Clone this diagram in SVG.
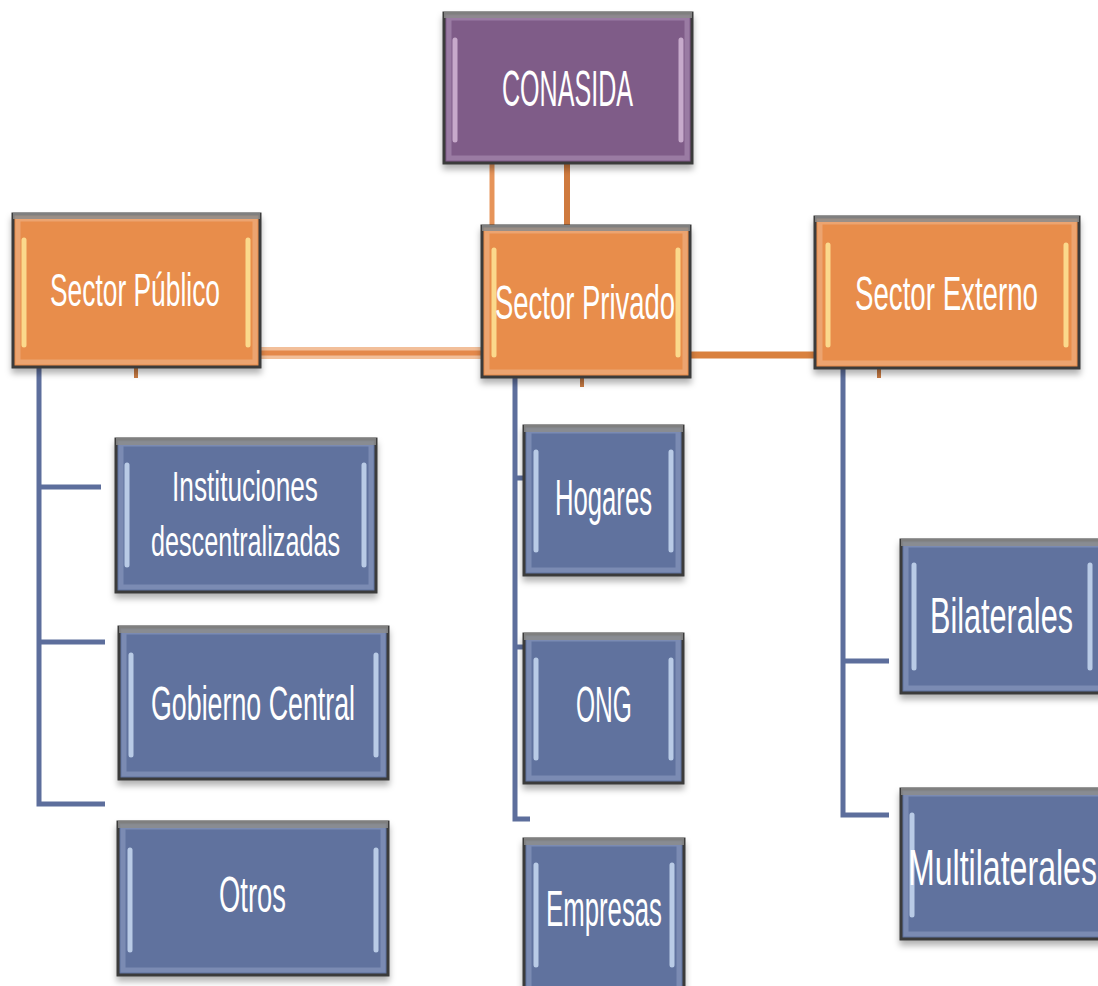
<svg xmlns="http://www.w3.org/2000/svg" width="1098" height="986" viewBox="0 0 1098 986">
<style>
  .body{stroke:#3a3a3a;stroke-width:3;filter:url(#sh)}
  .orange .body{fill:#e88d4b}
  .purple .body{fill:#7f5b88}
  .blue .body{fill:#61729e}
  .rim{fill:none;stroke-width:5}
  .orange .rim{stroke:#eca470}
  .purple .rim{stroke:#9a7ba3}
  .blue .rim{stroke:#7b8bb3}
  .top{fill:#8c8c8c;opacity:0.85}
  .hl{stroke-width:5;stroke-linecap:round}
  .orange .hl{stroke:#fbd98c}
  .purple .hl{stroke:#c7aacb}
  .blue .hl{stroke:#b9cbe6}
  text{font-family:"Liberation Sans",Arial,sans-serif;fill:#ffffff;text-anchor:start}
  .oc{stroke:#e4884a;stroke-width:5;fill:none}
  .ocl{stroke:#f2bf9a;stroke-width:12;fill:none}
  .bc{stroke:#5d6e9c;stroke-width:5;fill:none}
</style>
<defs>
  <filter id="sh" x="-5%" y="-5%" width="110%" height="120%">
    <feDropShadow dx="0" dy="5" stdDeviation="3" flood-color="#000" flood-opacity="0.3"/>
  </filter>
</defs>
<rect width="1098" height="986" fill="#ffffff"/>

<g id="connectors">
  <line class="oc" x1="492" y1="163" x2="492" y2="228" style="stroke:#e6945a"/>
  <line class="oc" x1="567" y1="163" x2="567" y2="228" style="stroke:#cf7a3e;stroke-width:6"/>
  <line class="ocl" x1="261" y1="353" x2="482" y2="353"/>
  <line class="oc" x1="261" y1="353" x2="482" y2="353"/>
  <line class="oc" x1="690" y1="355" x2="814" y2="355" style="stroke:#d9813f;stroke-width:7"/>
  <line class="oc" x1="136" y1="368" x2="136" y2="378" style="stroke:#c87a42;stroke-width:4"/>
  <line class="oc" x1="582" y1="377" x2="582" y2="387" style="stroke:#c87a42;stroke-width:4"/>
  <line class="oc" x1="879" y1="368" x2="879" y2="378" style="stroke:#c87a42;stroke-width:4"/>
  <polyline class="bc" points="39,368 39,804 105,804"/>
  <line class="bc" x1="39" y1="487" x2="101" y2="487"/>
  <line class="bc" x1="39" y1="642" x2="105" y2="642"/>
  <polyline class="bc" points="515,377 515,819 530,819"/>
  <line class="bc" x1="515" y1="478" x2="523" y2="478"/>
  <line class="bc" x1="515" y1="647" x2="523" y2="647"/>
  <polyline class="bc" points="843,368 843,815 889,815"/>
  <line class="bc" x1="843" y1="661" x2="889" y2="661"/>
</g>

<g id="conasida" class="purple">
  <rect class="body" x="444" y="13" width="248" height="150"/>
  <rect class="rim" x="449" y="18" width="238" height="140"/>
  <rect class="top" x="444" y="12" width="248" height="6"/>
  <line class="hl" x1="455" y1="40" x2="455" y2="140"/>
  <line class="hl" x1="681" y1="40" x2="681" y2="140"/>
  <text x="502" y="106" font-size="50" textLength="131" lengthAdjust="spacingAndGlyphs">CONASIDA</text>
</g>

<g id="sector-publico" class="orange">
  <rect class="body" x="13" y="214" width="247" height="153"/>
  <rect class="rim" x="18" y="219" width="237" height="143"/>
  <rect class="top" x="13" y="213" width="247" height="6"/>
  <line class="hl" x1="24" y1="240" x2="24" y2="345"/>
  <line class="hl" x1="248" y1="240" x2="248" y2="345"/>
  <text x="50" y="306" font-size="47" textLength="170" lengthAdjust="spacingAndGlyphs">Sector Público</text>
</g>

<g id="sector-privado" class="orange">
  <rect class="body" x="482" y="226" width="208" height="151"/>
  <rect class="rim" x="487" y="231" width="198" height="141"/>
  <rect class="top" x="482" y="225" width="208" height="6"/>
  <line class="hl" x1="494" y1="250" x2="494" y2="355"/>
  <line class="hl" x1="678" y1="250" x2="678" y2="355"/>
  <text x="495" y="319" font-size="49" textLength="180" lengthAdjust="spacingAndGlyphs">Sector Privado</text>
</g>

<g id="sector-externo" class="orange">
  <rect class="body" x="815" y="217" width="264" height="151"/>
  <rect class="rim" x="820" y="222" width="254" height="141"/>
  <rect class="top" x="815" y="216" width="264" height="6"/>
  <line class="hl" x1="828" y1="245" x2="828" y2="345"/>
  <line class="hl" x1="1066" y1="245" x2="1066" y2="345"/>
  <text x="855" y="310" font-size="48" textLength="183" lengthAdjust="spacingAndGlyphs">Sector Externo</text>
</g>

<g id="instituciones" class="blue">
  <rect class="body" x="116" y="439" width="260" height="153"/>
  <rect class="rim" x="121" y="444" width="250" height="143"/>
  <rect class="top" x="116" y="438" width="260" height="7"/>
  <line class="hl" x1="127" y1="465" x2="127" y2="565"/>
  <line class="hl" x1="364" y1="465" x2="364" y2="565"/>
  <text x="172" y="501" font-size="42" textLength="146" lengthAdjust="spacingAndGlyphs">Instituciones</text>
  <text x="151" y="556" font-size="42" textLength="189" lengthAdjust="spacingAndGlyphs">descentralizadas</text>
</g>

<g id="gobierno-central" class="blue">
  <rect class="body" x="119" y="627" width="269" height="152"/>
  <rect class="rim" x="124" y="632" width="259" height="142"/>
  <rect class="top" x="119" y="626" width="269" height="7"/>
  <line class="hl" x1="131" y1="655" x2="131" y2="755"/>
  <line class="hl" x1="376" y1="655" x2="376" y2="755"/>
  <text x="151" y="720" font-size="49" textLength="204" lengthAdjust="spacingAndGlyphs">Gobierno Central</text>
</g>

<g id="otros" class="blue">
  <rect class="body" x="118" y="822" width="270" height="153"/>
  <rect class="rim" x="123" y="827" width="260" height="143"/>
  <rect class="top" x="118" y="821" width="270" height="7"/>
  <line class="hl" x1="130" y1="850" x2="130" y2="950"/>
  <line class="hl" x1="376" y1="850" x2="376" y2="950"/>
  <text x="219" y="912" font-size="50" textLength="67" lengthAdjust="spacingAndGlyphs">Otros</text>
</g>

<g id="hogares" class="blue">
  <rect class="body" x="524" y="426" width="159" height="149"/>
  <rect class="rim" x="529" y="431" width="149" height="139"/>
  <rect class="top" x="524" y="425" width="159" height="7"/>
  <line class="hl" x1="536" y1="452" x2="536" y2="550"/>
  <line class="hl" x1="671" y1="452" x2="671" y2="550"/>
  <text x="555" y="515" font-size="50" textLength="97" lengthAdjust="spacingAndGlyphs">Hogares</text>
</g>

<g id="ong" class="blue">
  <rect class="body" x="524" y="634" width="159" height="149"/>
  <rect class="rim" x="529" y="639" width="149" height="139"/>
  <rect class="top" x="524" y="633" width="159" height="7"/>
  <line class="hl" x1="536" y1="660" x2="536" y2="758"/>
  <line class="hl" x1="671" y1="660" x2="671" y2="758"/>
  <text x="576" y="722" font-size="50" textLength="56" lengthAdjust="spacingAndGlyphs">ONG</text>
</g>

<g id="empresas" class="blue">
  <rect class="body" x="524" y="839" width="160" height="155"/>
  <rect class="rim" x="529" y="844" width="150" height="145"/>
  <rect class="top" x="524" y="838" width="160" height="7"/>
  <line class="hl" x1="536" y1="865" x2="536" y2="965"/>
  <line class="hl" x1="672" y1="865" x2="672" y2="965"/>
  <text x="546" y="926" font-size="50" textLength="116" lengthAdjust="spacingAndGlyphs">Empresas</text>
</g>

<g id="bilaterales" class="blue">
  <rect class="body" x="901" y="540" width="210" height="153"/>
  <rect class="rim" x="906" y="545" width="200" height="143"/>
  <rect class="top" x="901" y="539" width="210" height="7"/>
  <line class="hl" x1="914" y1="565" x2="914" y2="668"/>
  <line class="hl" x1="1090" y1="565" x2="1090" y2="668"/>
  <text x="930" y="633" font-size="50" textLength="143" lengthAdjust="spacingAndGlyphs">Bilaterales</text>
</g>

<g id="multilaterales" class="blue">
  <rect class="body" x="901" y="789" width="210" height="150"/>
  <rect class="rim" x="906" y="794" width="200" height="140"/>
  <rect class="top" x="901" y="788" width="210" height="7"/>
  <line class="hl" x1="912" y1="815" x2="912" y2="915"/>
  <text x="908" y="885" font-size="50" textLength="189" lengthAdjust="spacingAndGlyphs">Multilaterales</text>
</g>
</svg>
